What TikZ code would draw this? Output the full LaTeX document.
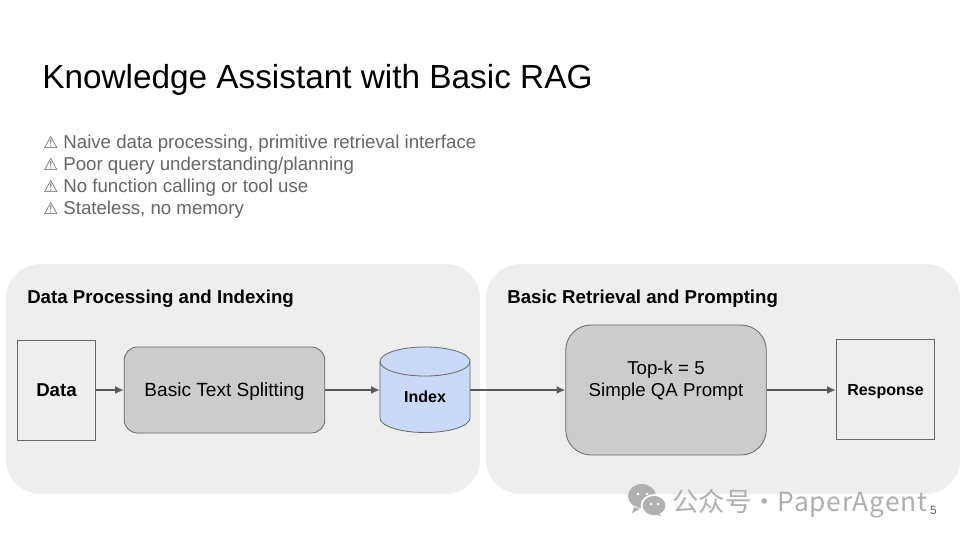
\documentclass[tikz,border=0pt]{standalone}
\usepackage{fontspec}
\usepackage{xcolor}
\setmainfont{Liberation Sans}
\newfontfamily\symfont{DejaVu Sans}
\newfontfamily\cjkfont{Noto Sans CJK SC}
\usetikzlibrary{positioning,arrows.meta,calc}
\definecolor{panelgray}{HTML}{EEEEEE}
\definecolor{boxgray}{HTML}{CCCCCC}
\definecolor{edgegray}{HTML}{666666}
\definecolor{linkgray}{HTML}{595959}
\definecolor{noteblue}{HTML}{C9DAF8}
\definecolor{marksgray}{HTML}{B0B0B0}
\newcommand{\warnsign}{{\symfont\fontsize{12.5}{16.6}\selectfont ⚠}}
\tikzset{
  panelbox/.style={fill=panelgray, rounded corners=26pt, inner sep=0pt},
  paperbox/.style={draw=edgegray, inner sep=0pt, line width=0.6pt},
  stagebox/.style={draw=edgegray, fill=boxgray, inner sep=0pt, line width=0.6pt, align=center, font=\fontsize{14}{17}\selectfont},
  link/.style={-{Latex[length=6.5pt,width=6pt]}, draw=linkgray, line width=1pt},
  heading/.style={anchor=west, inner sep=0pt, text height=10pt, text depth=3pt, font=\fontsize{14}{16}\selectfont\bfseries},
}
\begin{document}
\begin{tikzpicture}[x=0.75pt, y=-0.75pt]
\useasboundingbox (0,0) rectangle (960,540);
\fill[white] (0,0) rectangle (960,540);
% title and notes
\node[anchor=west, inner sep=0pt, font=\fontsize{25}{28}\selectfont] (title) at (42,80) {Knowledge Assistant with Basic RAG};
\node[anchor=north west, inner sep=0pt, align=left, text=edgegray, font=\fontsize{14}{16.6}\selectfont] (notes) at (43,134.5)
  {\warnsign{} Naive data processing, primitive retrieval interface\\
   \warnsign{} Poor query understanding/planning\\
   \warnsign{} No function calling or tool use\\
   \warnsign{} Stateless, no memory};
% panels
\node[panelbox, minimum width=355.5pt, minimum height=172.5pt] (leftpanel) at (243,379) {};
\node[panelbox, minimum width=355.5pt, minimum height=172.5pt] (rightpanel) at (723,379) {};
\node[heading] (leftlabel) at (27,298.5) {Data Processing and Indexing};
\node[heading] (rightlabel) at (507,298.5) {Basic Retrieval and Prompting};
% stages
\node[paperbox, minimum width=59pt, minimum height=75pt, font=\fontsize{14}{16}\selectfont\bfseries] (data) at (56.5,390) {Data};
\node[stagebox, rounded corners=10pt, minimum width=150.5pt, minimum height=64.5pt, text height=10pt, text depth=1pt, font=\fontsize{14.3}{17}\selectfont] (split) at (224.5,390) {Basic Text Splitting};
% index drum
\draw[draw=edgegray, fill=noteblue, line width=0.6pt] (380,361.5) arc[start angle=180, end angle=0, x radius=33.75pt, y radius=10.9pt]
  -- (470,418) arc[start angle=0, end angle=-180, x radius=33.75pt, y radius=10.9pt] -- cycle;
\draw[edgegray, line width=0.6pt] (380,361.5) arc[start angle=180, end angle=360, x radius=33.75pt, y radius=10.9pt];
\node[inner sep=0pt, minimum width=67.5pt, minimum height=64.5pt, text height=18pt, text depth=0pt, font=\fontsize{12}{14}\selectfont\bfseries] (index) at (425,390) {Index};
\node[stagebox, rounded corners=19pt, minimum width=150.5pt, minimum height=97.5pt] (prompt) at (666,390) {Top-k = 5\\Simple QA Prompt\\\mbox{}};
\node[paperbox, minimum width=74pt, minimum height=75pt, text height=10pt, text depth=1pt, font=\fontsize{12}{14}\selectfont\bfseries] (response) at (885.5,389) {Response};
% connectors
\draw[link] (data) -- (split);
\draw[link] (split) -- (index);
\draw[link] (index) -- (prompt);
\draw[link] (prompt) -- (response.west |- prompt);
% page number and mark
\node[inner sep=0pt, text=edgegray, font=\fontsize{9}{11}\selectfont] (pagenum) at (933.5,510) {5};
\fill[marksgray] (642,496) ellipse[x radius=10.5pt, y radius=9pt];
\fill[marksgray] (634,507) -- (632,513) -- (640,509) -- cycle;
\fill[white] (654,505.5) ellipse[x radius=10pt, y radius=8.5pt];
\fill[marksgray] (654,505.5) ellipse[x radius=8.5pt, y radius=7.2pt];
\fill[marksgray] (658,512) -- (661,516) -- (652,513) -- cycle;
\fill[white] (638,494) circle (1.1pt) (647,494) circle (1.1pt) (651,504) circle (1pt) (658,504) circle (1pt);
\node[anchor=west, inner sep=0pt, text=marksgray, font=\cjkfont\fontsize{19.8}{22}\selectfont] (mark) at (672,503.5) {公众号·{\addfontfeatures{LetterSpace=3}PaperAgent}};
\end{tikzpicture}
\end{document}
